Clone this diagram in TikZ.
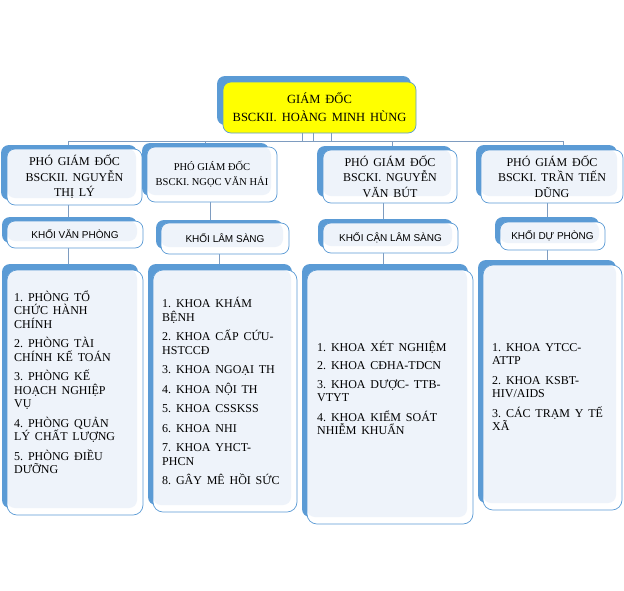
\documentclass[tikz,border=0pt]{standalone}
\usepackage{fontspec}
\setmainfont{Liberation Serif}[WordSpace=1.6]
\newfontfamily\plainserif{Liberation Serif}
\newfontfamily\khoifont{Liberation Sans}
\usepackage{tikz}
\usetikzlibrary{backgrounds}
\frenchspacing
\definecolor{backblue}{HTML}{5B9BD5}
\definecolor{paleblue}{HTML}{EEF3FA}
\definecolor{connblue}{HTML}{7E9CC0}
\definecolor{topyellow}{HTML}{FFFF00}
\tikzstyle{backfill}=[fill=backblue,rounded corners=8pt]
\tikzstyle{frontbox}=[draw=backblue,line width=0.7pt,fill=white,rounded corners=8pt,inner sep=0pt,
  path picture={\fill[paleblue,rounded corners=8pt] (path picture bounding box.north west) rectangle ([xshift=-6pt,yshift=7pt]path picture bounding box.south east);}]
\tikzstyle{topbox}=[draw=backblue,line width=0.7pt,fill=topyellow,rounded corners=8pt,inner sep=0pt,align=center,font=\fontsize{12.5}{18}\selectfont]
\tikzstyle{pgdbox}=[frontbox,align=center,font=\fontsize{12}{15.5}\selectfont]
\tikzstyle{khoibox}=[frontbox,font=\khoifont\fontsize{10}{12}\selectfont]
\tikzstyle{listtext}=[anchor=west,align=left,inner sep=0pt,font=\fontsize{12}{13.5}\selectfont]
\tikzstyle{conn}=[draw=connblue,line width=0.8pt]

\begin{document}
\begin{tikzpicture}[x=1pt,y=-1pt]
\useasboundingbox (0,0) rectangle (624,590);
% giam doc
\fill[backfill] (217,76) rectangle (411,125);
\node[topbox,minimum width=193pt,minimum height=51pt] (gd) at (319.5,107.5) {GIÁM ĐỐC\\BSCKII. HOÀNG MINH HÙNG};
% pho giam doc
\fill[backfill] (1,145) rectangle (137,200);
\node[pgdbox,minimum width=135pt,minimum height=56pt] (pgd1) at (74.5,177) {PHÓ GIÁM ĐỐC\\BSCKII. NGUYỄN\\THỊ LÝ};
\fill[backfill] (142,143) rectangle (269,196);
\node[pgdbox,font=\plainserif\fontsize{10.5}{15}\selectfont,minimum width=130pt,minimum height=55pt] (pgd2) at (212,174.5) {PHÓ GIÁM ĐỐC\\BSCKI. NGỌC VĂN HẢI};
\fill[backfill] (317,146) rectangle (452,197);
\node[pgdbox,minimum width=134pt,minimum height=53pt] (pgd3) at (390,176.5) {PHÓ GIÁM ĐỐC\\BSCKI. NGUYỄN\\VĂN BÚT};
\fill[backfill] (476,145) rectangle (617,197);
\node[pgdbox,minimum width=142pt,minimum height=53pt] (pgd4) at (552,176.5) {PHÓ GIÁM ĐỐC\\BSCKI. TRẦN TIẾN\\DŨNG};
% khoi
\fill[backfill] (2,217) rectangle (137,243);
\node[khoibox,minimum width=136pt,minimum height=27pt] (khoi1) at (75,234.5) {KHỐI VĂN PHÒNG};
\fill[backfill] (156,220) rectangle (283,249);
\node[khoibox,minimum width=128pt,minimum height=31pt] (khoi2) at (225,238.5) {KHỐI LÂM SÀNG};
\fill[backfill] (318,219) rectangle (453,248);
\node[khoibox,minimum width=135pt,minimum height=30pt] (khoi3) at (390.5,238) {KHỐI CẬN LÂM SÀNG};
\fill[backfill] (495,217) rectangle (599,245);
\node[khoibox,minimum width=105pt,minimum height=28pt] (khoi4) at (552.5,236) {KHỐI DỰ PHÒNG};
% danh sach
\fill[backfill] (2,264) rectangle (138,508);
\node[frontbox,rounded corners=10pt,minimum width=136pt,minimum height=245pt] (ds1) at (75,392.5) {};
\fill[backfill] (148,264) rectangle (292,505);
\node[frontbox,rounded corners=10pt,minimum width=144pt,minimum height=242pt] (ds2) at (225,391) {};
\fill[backfill] (302,264) rectangle (468,517);
\node[frontbox,rounded corners=10pt,minimum width=166pt,minimum height=254pt] (ds3) at (390,397) {};
\fill[backfill] (478,260) rectangle (616,503);
\node[frontbox,rounded corners=10pt,minimum width=139pt,minimum height=245pt] (ds4) at (552.5,387.5) {};
\node[listtext] (t1) at (14,382) {1. PHÒNG TỔ\\CHỨC HÀNH\\CHÍNH\\[6pt]2. PHÒNG TÀI\\CHÍNH KẾ TOÁN\\[6pt]3. PHÒNG KẾ\\HOẠCH NGHIỆP\\VỤ\\[6pt]4. PHÒNG QUẢN\\LÝ CHẤT LƯỢNG\\[6pt]5. PHÒNG ĐIỀU\\DƯỠNG};
\node[listtext] (t2) at (162,391) {1. KHOA KHÁM\\BỆNH\\[6pt]2. KHOA CẤP CỨU-\\HSTCCĐ\\[6pt]3. KHOA NGOẠI TH\\[6pt]4. KHOA NỘI TH\\[6pt]5. KHOA CSSKSS\\[6pt]6. KHOA NHI\\[6pt]7. KHOA YHCT-\\PHCN\\[6pt]8. GÂY MÊ HỒI SỨC};
\node[listtext] (t3) at (317,388) {1. KHOA XÉT NGHIỆM\\[5pt]2. KHOA CĐHA-TDCN\\[5pt]3. KHOA DƯỢC- TTB-\\VTYT\\[6pt]4. KHOA KIỂM SOÁT\\NHIỄM KHUẨN};
\node[listtext] (t4) at (492,387) {1. KHOA YTCC-\\ATTP\\[6pt]2. KHOA KSBT-\\HIV/AIDS\\[6pt]3. CÁC TRẠM Y TẾ\\XÃ};
% duong noi
\coordinate (bus1) at (68,141);
\coordinate (bus2) at (205,141);
\coordinate (bus3) at (392,141);
\coordinate (bus4) at (563,141);
\coordinate (up1) at (302,141);
\coordinate (up2) at (313,141);
\coordinate (up3) at (331,141);
\begin{scope}[on background layer]
\fill[white] (0,0) rectangle (624,590);
\draw[conn] (bus1) -- (bus4);
\draw[conn] (gd.south -| up1) -- (up1);
\draw[conn] (gd.south -| up2) -- (up2);
\draw[conn] (gd.south -| up3) -- (up3);
\draw[conn] (bus1) -- (pgd1.north -| bus1);
\draw[conn] (bus2) -- (pgd2.north -| bus2);
\draw[conn] (bus3) -- (pgd3.north -| bus3);
\draw[conn] (bus4) -- (pgd4.north -| bus4);
\draw[conn] ([xshift=-6pt]pgd1.south) -- ([xshift=-6pt]pgd1.south |- khoi1.north);
\draw[conn] ([xshift=-2pt]pgd2.south) -- ([xshift=-2pt]pgd2.south |- khoi2.north);
\draw[conn] ([xshift=-7pt]pgd3.south) -- ([xshift=-7pt]pgd3.south |- khoi3.north);
\draw[conn] ([xshift=-5pt]pgd4.south) -- ([xshift=-5pt]pgd4.south |- khoi4.north);
\draw[conn] ([xshift=-7pt]khoi1.south) -- ([xshift=-7pt]khoi1.south |- ds1.north);
\draw[conn] ([xshift=-6pt]khoi2.south) -- ([xshift=-6pt]khoi2.south |- ds2.north);
\draw[conn] ([xshift=-7pt]khoi3.south) -- ([xshift=-7pt]khoi3.south |- ds3.north);
\draw[conn] ([xshift=-5pt]khoi4.south) -- ([xshift=-5pt]khoi4.south |- ds4.north);
\end{scope}
\end{tikzpicture}
\end{document}
